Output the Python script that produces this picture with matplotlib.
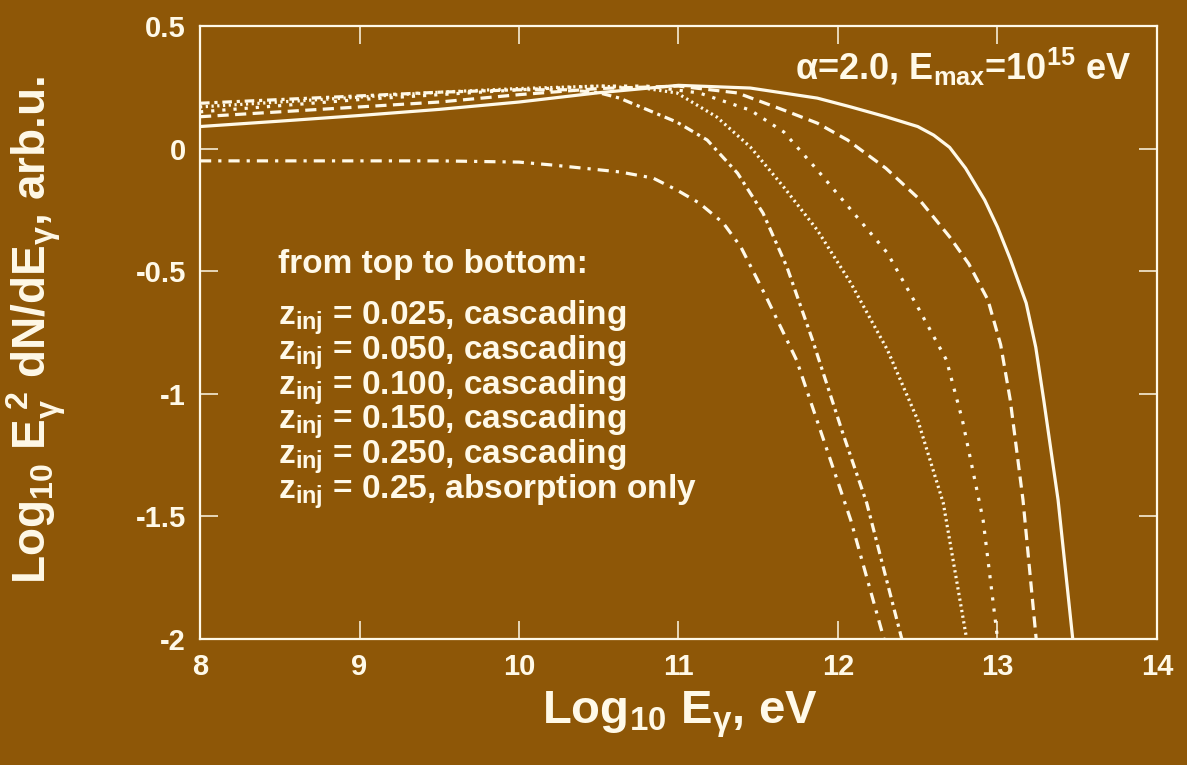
import matplotlib
import matplotlib.pyplot as plt

matplotlib.use('agg')

# curves (x = log10 E, y = log10 E^2 dN/dE)
x_z025 = [8.0, 8.5, 9.0, 9.5, 10.0, 10.5, 11.0, 11.45, 11.87, 12.08, 12.3, 12.5, 12.6,
          12.7, 12.8, 12.92, 13.0, 13.08, 13.18, 13.24, 13.29, 13.38, 13.48]
y_z025 = [0.09, 0.112, 0.135, 0.16, 0.19, 0.228, 0.258, 0.247, 0.206, 0.17, 0.13, 0.09, 0.055,
          0.005, -0.08, -0.21, -0.32, -0.45, -0.63, -0.81, -1.025, -1.433, -2.05]

x_z050 = [8.0, 8.5, 9.0, 9.5, 10.0, 10.5, 11.0, 11.37, 11.66, 11.87, 12.06, 12.3,
          12.5, 12.7, 12.82, 12.94, 13.02, 13.08, 13.16, 13.25]
y_z050 = [0.13, 0.15, 0.17, 0.19, 0.22, 0.245, 0.255, 0.227, 0.157, 0.104, 0.035, -0.08,
          -0.2, -0.36, -0.47, -0.617, -0.8, -1.025, -1.433, -2.05]

x_z100 = [8.0, 8.5, 9.0, 9.5, 10.0, 10.5, 10.8, 11.13, 11.45, 11.66, 11.87, 12.03,
          12.31, 12.51, 12.68, 12.78, 12.91, 13.01]
y_z100 = [0.15, 0.175, 0.2, 0.22, 0.24, 0.255, 0.255, 0.227, 0.157, 0.068, -0.087, -0.21,
          -0.426, -0.658, -0.862, -1.107, -1.515, -2.05]

x_z150 = [8.0, 8.5, 9.0, 9.5, 10.0, 10.5, 10.8, 10.99, 11.24, 11.45, 11.66, 11.87,
          12.08, 12.31, 12.5, 12.66, 12.82]
y_z150 = [0.17, 0.19, 0.21, 0.23, 0.245, 0.255, 0.245, 0.227, 0.129, 0.007, -0.157, -0.332,
          -0.548, -0.821, -1.107, -1.445, -2.05]

x_z250 = [8.0, 8.5, 9.0, 9.5, 10.0, 10.3, 10.5, 10.63, 10.99, 11.18, 11.37, 11.53,
          11.68, 11.84, 12.03, 12.18, 12.42]
y_z250 = [0.185, 0.2, 0.215, 0.23, 0.24, 0.24, 0.228, 0.206, 0.108, 0.035, -0.1, -0.263,
          -0.483, -0.78, -1.16, -1.445, -2.05]

x_abs = [8.0, 8.5, 9.0, 9.5, 10.0, 10.21, 10.63, 10.84, 10.99, 11.13, 11.28, 11.39,
         11.55, 11.74, 11.91, 12.08, 12.31]
y_abs = [-0.05, -0.05, -0.05, -0.05, -0.055, -0.067, -0.095, -0.12, -0.169, -0.222, -0.303, -0.4,
         -0.605, -0.862, -1.188, -1.515, -2.05]

legend_lines = ['0.025, cascading', '0.050, cascading', '0.100, cascading',
                '0.150, cascading', '0.250, cascading', '0.25, absorption only']

bg = '#8E5707'
fg = '#FFF9E8'

plt.rcParams['font.family'] = ['Liberation Sans', 'DejaVu Sans']
plt.rcParams['font.weight'] = 'bold'
plt.rcParams['axes.labelweight'] = 'bold'
plt.rcParams['mathtext.fontset'] = 'custom'
plt.rcParams['mathtext.rm'] = 'Liberation Sans:bold'
plt.rcParams['mathtext.it'] = 'Liberation Sans:bold'
plt.rcParams['mathtext.bf'] = 'Liberation Sans:bold'

fig = plt.figure(figsize=(11.87, 7.65), dpi=100, facecolor=bg)
ax = fig.add_axes([0.1685, 0.1647, 0.8062, 0.8013], facecolor=bg)

lw = 2.3
ax.plot(x_z025, y_z025, c=fg, lw=lw, ls='-')
ax.plot(x_z050, y_z050, c=fg, lw=lw, ls=(0, (3.5, 2)))
ax.plot(x_z100, y_z100, c=fg, lw=lw, ls=(0, (1, 2.5)))
ax.plot(x_z150, y_z150, c=fg, lw=lw, ls=(0, (0.7, 1.1)))
ax.plot(x_z250, y_z250, c=fg, lw=lw, ls=(0, (3, 1.5, 1, 1.5)))
ax.plot(x_abs, y_abs, c=fg, lw=lw, ls=(0, (3.5, 2.2, 1, 2.2)))

ax.set_xlim(8, 14)
ax.set_ylim(-2, 0.5)
ax.set_xticks([8, 9, 10, 11, 12, 13, 14])
ax.set_yticks([-2, -1.5, -1, -0.5, 0, 0.5])
ax.set_yticklabels(['-2', '-1.5', '-1', '-0.5', '0', '0.5'])

for s in ax.spines.values():
    s.set_color(fg)
    s.set_linewidth(1.6)
ax.tick_params(direction='in', length=13, width=1.1, color=fg, labelcolor=fg,
               labelsize=21, top=True, right=True, pad=10)

ax.set_xlabel(r'Log$_{10}$ E$_{\gamma}$, eV', color=fg, fontsize=34)
ax.set_ylabel(r'Log$_{10}$ E$_{\gamma}^{\ 2}$ dN/dE$_{\gamma}$, arb.u.', color=fg,
              fontsize=33)
ax.xaxis.set_label_coords(0.5016, -0.083)
ax.yaxis.set_label_coords(-0.138, 0.504)

ax.text(13.84, 0.28, r'$\alpha$=2.0, E$_{\rm max}$=10$^{15}$ eV', color=fg,
        fontsize=26, ha='right', va='baseline')

ax.text(8.49, -0.507, 'from top to bottom:', color=fg, fontsize=24, va='baseline')
for i, t in enumerate(legend_lines):
    ax.text(8.49, -0.719 - i * 0.1415, r'z$_{\rm inj}$ = ' + t, color=fg, fontsize=24,
            va='baseline')

fig.savefig('out.png', dpi=100, facecolor=bg)
